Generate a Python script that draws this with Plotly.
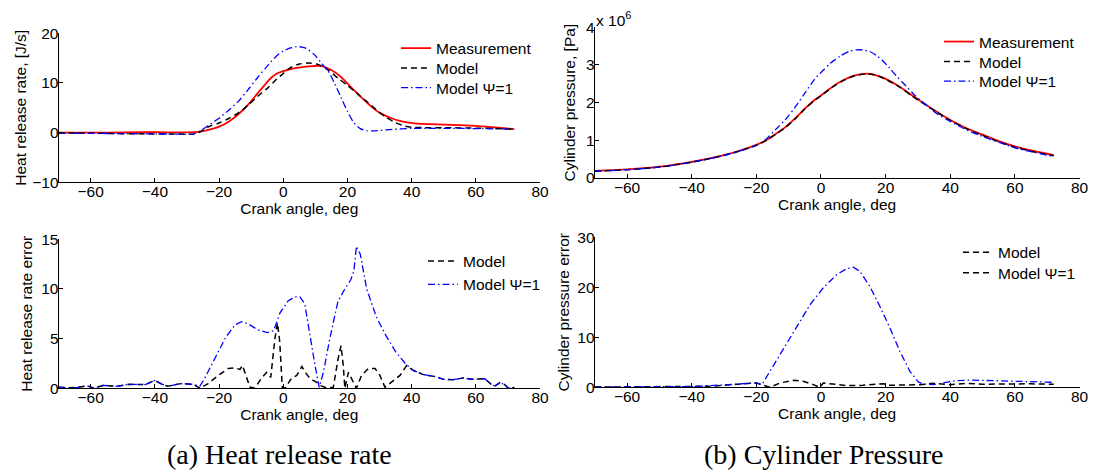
import plotly.graph_objects as go

# ---------------- data ----------------
# (a) heat release rate [J/s]
hrr_meas_x = [-70, -60, -50, -40, -30, -26, -23, -20, -17, -14, -11, -8, -6, -4, -2, 0, 3, 6, 9, 12,
              15, 18, 21, 24, 27, 30, 33, 36, 39, 42, 46, 50, 55, 60, 65, 72]
hrr_meas_y = [0.0, 0.0, 0.05, 0.1, 0.05, 0.2, 0.6, 1.2, 2.2, 3.7, 5.6, 7.9, 9.4, 10.9, 11.9, 12.4, 12.9, 13.2, 13.4, 13.4,
              12.6, 11.2, 9.2, 7.3, 5.5, 4.0, 3.1, 2.4, 2.0, 1.8, 1.7, 1.6, 1.5, 1.35, 1.1, 0.7]

hrr_model_x = [-70, -60, -50, -40, -32, -28, -26, -23, -20, -17, -14, -11, -8, -5, -2, 0, 2, 5, 8, 11,
               14, 17, 20, 23, 26, 29, 32, 35, 38, 40, 44, 50, 60, 65, 72]
hrr_model_y = [-0.1, -0.1, -0.2, -0.25, -0.3, -0.3, 0.1, 1.25, 1.95, 2.85, 4.0, 5.5, 7.3, 8.9, 10.8, 11.9, 13.0, 13.8, 14.0, 13.7,
               12.6, 11.0, 9.5, 7.9, 6.3, 4.6, 3.1, 2.0, 1.3, 1.1, 1.0, 1.0, 0.9, 0.85, 0.7]

hrr_psi_x = [-70, -60, -50, -40, -32, -28, -26, -23, -20, -17, -14, -11, -8, -5, -2, 0, 2, 4, 5, 7,
             10, 12, 14, 16, 18, 20, 22, 24, 26, 28, 30, 34, 40, 44, 50, 60, 72]
hrr_psi_y = [-0.1, -0.15, -0.2, -0.25, -0.3, -0.3, 0.3, 1.6, 2.9, 4.5, 6.3, 8.6, 11.1, 13.4, 15.5, 16.4, 17.0, 17.3, 17.3, 17.0,
             15.5, 13.9, 12.4, 9.9, 7.1, 4.3, 2.0, 0.8, 0.4, 0.35, 0.45, 0.65, 0.85, 0.87, 0.87, 0.82, 0.7]

# (a) heat release rate error
hrr_err_model_x = [-70, -67, -64, -61, -59, -56, -52, -48, -43, -40, -38, -36, -32, -28, -26, -23.4, -20.2, -17.1, -15.1, -13.5,
                   -12.7, -11.4, -10.4, -8.9, -6.8, -5.2, -3.9, -2.6, -1.8, -1.1, -0.3, 0.6, 2.5, 4.2, 5.8, 7.1, 8.3, 10.4, 11.4, 13.5,
                   15.6, 17.1, 18, 18.7, 19.2, 20.3, 21.8, 22.8, 24.4, 26.5, 28.6, 30.1, 31.7, 34.3, 36.4, 38.5, 40.5, 43.5, 47, 50,
                   53, 56, 59, 62.8, 64.9, 66, 67.5, 69, 70.1, 71, 72]
hrr_err_model_y = [0.1, 0.05, 0.1, 0.25, 0.0, 0.3, 0.2, 0.4, 0.37, 0.8, 0.45, 0.2, 0.47, 0.4, 0.0, 0.47, 1.3, 2.0, 2.05, 1.9,
                   2.3, 1.0, 0.13, 0.0, 1.0, 1.6, 1.1, 5.0, 6.6, 4.7, 0.1, 0.0, 1.0, 1.3, 2.2, 1.5, 1.0, 0.6, 0.3, 0.03,
                   0.1, 3.0, 4.3, 2.3, 0.0, 1.6, 0.6, 0.0, 1.3, 2.0, 2.0, 1.3, 0.1, 0.8, 1.3, 2.3, 1.8, 1.4, 1.2, 0.9,
                   0.87, 1.04, 0.9, 0.97, 0.37, 0.23, 0.57, 0.37, 0.03, 0.0, 0.1]

hrr_err_psi_x = [-70, -67, -64, -61, -59, -56, -52, -48, -43, -40, -38, -36, -32, -28, -26, -24.5, -21, -18, -15, -13,
                 -11, -8, -5, -3, -1, 1.5, 3.5, 5.2, 6.7, 8.3, 9.9, 11.2, 12.5, 14.5, 17, 19, 21, 22, 22.8, 24,
                 26, 29, 32, 35, 38, 40.5, 43.5, 47, 50, 53, 56, 59, 62.8, 64.9, 66, 67.5, 69, 70.1, 71]
hrr_err_psi_y = [0.1, 0.05, 0.1, 0.25, 0.0, 0.3, 0.2, 0.4, 0.37, 0.8, 0.45, 0.2, 0.47, 0.4, 0.2, 1.0, 3.2, 5.1, 6.4, 6.7,
                 6.5, 5.9, 5.6, 5.8, 7.6, 8.8, 9.2, 9.2, 8.5, 5.3, 2.3, 0.1, 1.6, 5.0, 8.7, 9.9, 10.9, 11.8, 14.3, 13.5,
                 10.0, 7.2, 5.3, 3.7, 2.5, 1.8, 1.4, 1.2, 0.9, 0.87, 1.04, 0.9, 0.97, 0.37, 0.23, 0.57, 0.37, 0.03, 0.0]

# (b) cylinder pressure [Pa] in units of 1e6
p_meas_x = [-70, -60, -50, -40, -30, -25, -20, -17, -14, -11, -8, -5, -2, 0, 2, 4, 7, 10, 12, 14,
            16, 18, 20, 24, 28, 32, 36, 40, 45, 50, 55, 60, 65, 72]
p_meas_y = [0.19, 0.23, 0.30, 0.43, 0.61, 0.73, 0.88, 1.0, 1.17, 1.35, 1.58, 1.84, 2.07, 2.19, 2.32, 2.45, 2.6, 2.71, 2.75, 2.77,
            2.75, 2.7, 2.63, 2.44, 2.2, 1.97, 1.75, 1.54, 1.32, 1.15, 0.98, 0.84, 0.73, 0.61]

p_model_x = p_meas_x
p_model_y = [0.18, 0.22, 0.29, 0.42, 0.60, 0.72, 0.87, 0.99, 1.16, 1.34, 1.57, 1.83, 2.06, 2.18, 2.31, 2.44, 2.59, 2.70, 2.74, 2.76,
             2.75, 2.70, 2.62, 2.43, 2.19, 1.96, 1.74, 1.53, 1.31, 1.13, 0.96, 0.82, 0.71, 0.59]

p_psi_x = [-70, -60, -50, -40, -30, -25, -20, -17, -14, -11, -8, -5, -2, 0, 3, 6, 9, 11, 13, 15,
           17, 19, 21, 23, 26, 29, 32, 36, 40, 45, 50, 55, 60, 65, 72]
p_psi_y = [0.18, 0.22, 0.29, 0.42, 0.60, 0.72, 0.87, 1.03, 1.29, 1.55, 1.88, 2.25, 2.62, 2.8, 3.05, 3.24, 3.37, 3.4, 3.4, 3.36,
           3.26, 3.12, 2.94, 2.74, 2.47, 2.2, 1.98, 1.7, 1.5, 1.28, 1.1, 0.95, 0.8, 0.7, 0.57]

# (b) cylinder pressure error
p_err_model_x = [-70, -60, -50, -40, -35, -30, -25, -20, -15.8, -12.7, -8.5, -5.5, -2.4, -0.3, 0.7, 3.8, 7.9, 13, 17.2, 19.3,
                 21.3, 26.5, 30.6, 34.7, 39.9, 45, 50, 55, 60, 65, 72]
p_err_model_y = [0.05, 0.05, 0.05, 0.1, 0.2, 0.4, 0.7, 0.87, 0.0, 0.87, 1.4, 1.2, 0.53, 0.0, 0.87, 0.67, 0.33, 0.4, 0.53, 0.73,
                 0.4, 0.4, 0.53, 0.8, 0.53, 0.8, 0.6, 0.65, 0.7, 0.7, 0.6]

p_err_psi_x = [-70, -60, -50, -40, -35, -30, -25, -20, -18.3, -15.8, -11.6, -7.5, -3.4, 0.7, 4.8, 7.9, 10, 12, 15.1, 18.2,
               21.3, 24.4, 27.5, 30.1, 31.6, 34.7, 38.8, 41.9, 46, 50, 55, 60, 65, 72]
p_err_psi_y = [0.05, 0.05, 0.05, 0.13, 0.3, 0.5, 0.8, 0.87, 0.5, 3.2, 7.9, 12.2, 16.5, 19.9, 22.5, 23.7, 24.0, 23.2, 20.2, 16.2,
               11.9, 7.2, 3.2, 1.07, 0.67, 0.53, 1.07, 1.33, 1.45, 1.4, 1.35, 1.25, 1.15, 1.0]

x_ticks = [-60, -40, -20, 0, 20, 40, 60, 80]
x_title = "Crank angle, deg"

# ---------------- figure ----------------
W, H = 1096, 472
SANS = "Liberation Sans, Arial, Helvetica, sans-serif"
FS = 15.5
RED = "#ff0000"
BLACK = "#000000"
BLUE = "#0000ff"
DASH = "6px,4px"
DASHDOT = "7px,3px,1.5px,3px"

fig = go.Figure()


def line(x, y, color, dash, width, name, xa, ya, legend, show=True, shape="spline"):
    fig.add_trace(go.Scatter(
        x=x, y=y, mode="lines", name=name,
        line=dict(color=color, dash=dash, width=width, shape=shape, smoothing=0.8),
        xaxis=xa, yaxis=ya, legend=legend, showlegend=show,
    ))


# top-left
line(hrr_meas_x, hrr_meas_y, RED, "solid", 1.8, "Measurement", "x", "y", "legend")
line(hrr_model_x, hrr_model_y, BLACK, DASH, 1.5, "Model", "x", "y", "legend2")
line(hrr_psi_x, hrr_psi_y, BLUE, DASHDOT, 1.3, "Model \u03a8=1", "x", "y", "legend3")
# top-right
line(p_meas_x, p_meas_y, RED, "solid", 1.8, "Measurement", "x2", "y2", "legend4")
line(p_model_x, p_model_y, BLACK, DASH, 1.5, "Model", "x2", "y2", "legend5")
line(p_psi_x, p_psi_y, BLUE, DASHDOT, 1.3, "Model \u03a8=1", "x2", "y2", "legend6")
# bottom-left
line(hrr_err_model_x, hrr_err_model_y, BLACK, DASH, 1.5, "Model", "x3", "y3", "legend7", shape="linear")
line(hrr_err_psi_x, hrr_err_psi_y, BLUE, DASHDOT, 1.3, "Model \u03a8=1", "x3", "y3", "legend8", shape="linear")
# bottom-right (legend in the original shows both entries as black dashed)
line(p_err_model_x, p_err_model_y, BLACK, DASH, 1.5, "Model", "x4", "y4", "legend9", shape="linear")
line(p_err_psi_x, p_err_psi_y, BLUE, DASHDOT, 1.3, "Model \u03a8=1", "x4", "y4", "legend10", show=False, shape="linear")
fig.add_trace(go.Scatter(x=[None], y=[None], mode="lines", name="Model \u03a8=1",
                         line=dict(color=BLACK, dash=DASH, width=1.5),
                         xaxis="x4", yaxis="y4", legend="legend10"))


def px(v):
    return v / W


def py(v):
    return 1 - v / H


axis_common = dict(
    showline=True, linecolor="black", linewidth=1, mirror=False,
    ticks="inside", ticklen=4, tickcolor="black", tickwidth=1,
    showgrid=False, zeroline=False, automargin=False,
    tickfont=dict(family=SANS, size=FS, color="black"),
)

xl = [px(58.6), px(540)]
xr = [px(594.7), px(1079.6)]

xaxis_cfg = dict(range=[-70, 80], tickvals=x_ticks, ticklabelstandoff=-5, **axis_common)
tfont = dict(family=SANS, size=FS, color="black")

fig.update_layout(
    width=W, height=H,
    margin=dict(l=0, r=0, t=0, b=0, autoexpand=False),
    paper_bgcolor="white", plot_bgcolor="white",
    font=dict(family=SANS, size=FS, color="black"),
    xaxis=dict(domain=xl, anchor="y", title=dict(text=x_title, standoff=3, font=tfont), **xaxis_cfg),
    yaxis=dict(domain=[py(182.3), py(33.3)], anchor="x", range=[-10, 20], tickvals=[-10, 0, 10, 20],
               ticklabelstandoff=-4,
               title=dict(text="Heat release rate, [J/s]", standoff=1, font=tfont), **axis_common),
    xaxis2=dict(domain=xr, anchor="y2", title=dict(text=x_title, standoff=3, font=tfont), **xaxis_cfg),
    yaxis2=dict(domain=[py(178), py(27.3)], anchor="x2", range=[0, 4], tickvals=[0, 1, 2, 3, 4],
                ticklabelstandoff=-4,
                title=dict(text="Cylinder pressure, [Pa]", standoff=6, font=tfont), **axis_common),
    xaxis3=dict(domain=xl, anchor="y3", title=dict(text=x_title, standoff=3, font=tfont), **xaxis_cfg),
    yaxis3=dict(domain=[py(388.3), py(239.3)], anchor="x3", range=[0, 15], tickvals=[0, 5, 10, 15],
                ticklabelstandoff=-4,
                title=dict(text="Heat release rate error", standoff=4, font=tfont), **axis_common),
    xaxis4=dict(domain=xr, anchor="y4", title=dict(text=x_title, standoff=3, font=tfont), **xaxis_cfg),
    yaxis4=dict(domain=[py(387.3), py(237.3)], anchor="x4", range=[0, 30], tickvals=[0, 10, 20, 30],
                ticklabelstandoff=-4,
                title=dict(text="Cylinder pressure error", standoff=3, font=tfont), **axis_common),
)

# one legend per entry so that each entry sits where the original puts it
leg_common = dict(xanchor="left", yanchor="middle", bgcolor="rgba(0,0,0,0)", borderwidth=0,
                  font=dict(family=SANS, size=FS, color="black"), itemwidth=30)
legend_pos = {
    "legend": (437, 48.5), "legend2": (437, 68.5), "legend3": (437, 88),
    "legend4": (980, 42), "legend5": (980, 62), "legend6": (980, 81.5),
    "legend7": (464, 261.3), "legend8": (464, 284.7),
    "legend9": (999, 252.7), "legend10": (999, 273.3),
}
for key, (tx, ty) in legend_pos.items():
    fig.update_layout({key: dict(x=px(tx - 41), y=py(ty), **leg_common)})

fig.add_annotation(text="x 10<sup>6</sup>", xref="paper", yref="paper", x=px(594), y=py(19),
                   xanchor="left", yanchor="middle", showarrow=False,
                   font=dict(family=SANS, size=FS, color="black"))

SERIF = "Liberation Serif, DejaVu Serif, serif"
fig.add_annotation(text="(a) Heat release rate", xref="paper", yref="paper", x=px(279.5), y=py(454),
                   xanchor="center", yanchor="middle", showarrow=False,
                   font=dict(family=SERIF, size=28, color="black"))
fig.add_annotation(text="(b) Cylinder Pressure", xref="paper", yref="paper", x=px(823.5), y=py(454),
                   xanchor="center", yanchor="middle", showarrow=False,
                   font=dict(family=SERIF, size=28, color="black"))

fig.write_html(
    "out.html",
    config={"displayModeBar": False},
    post_script="document.body.style.margin='0';document.body.style.padding='0';"
                "document.body.style.overflow='hidden';",
)
